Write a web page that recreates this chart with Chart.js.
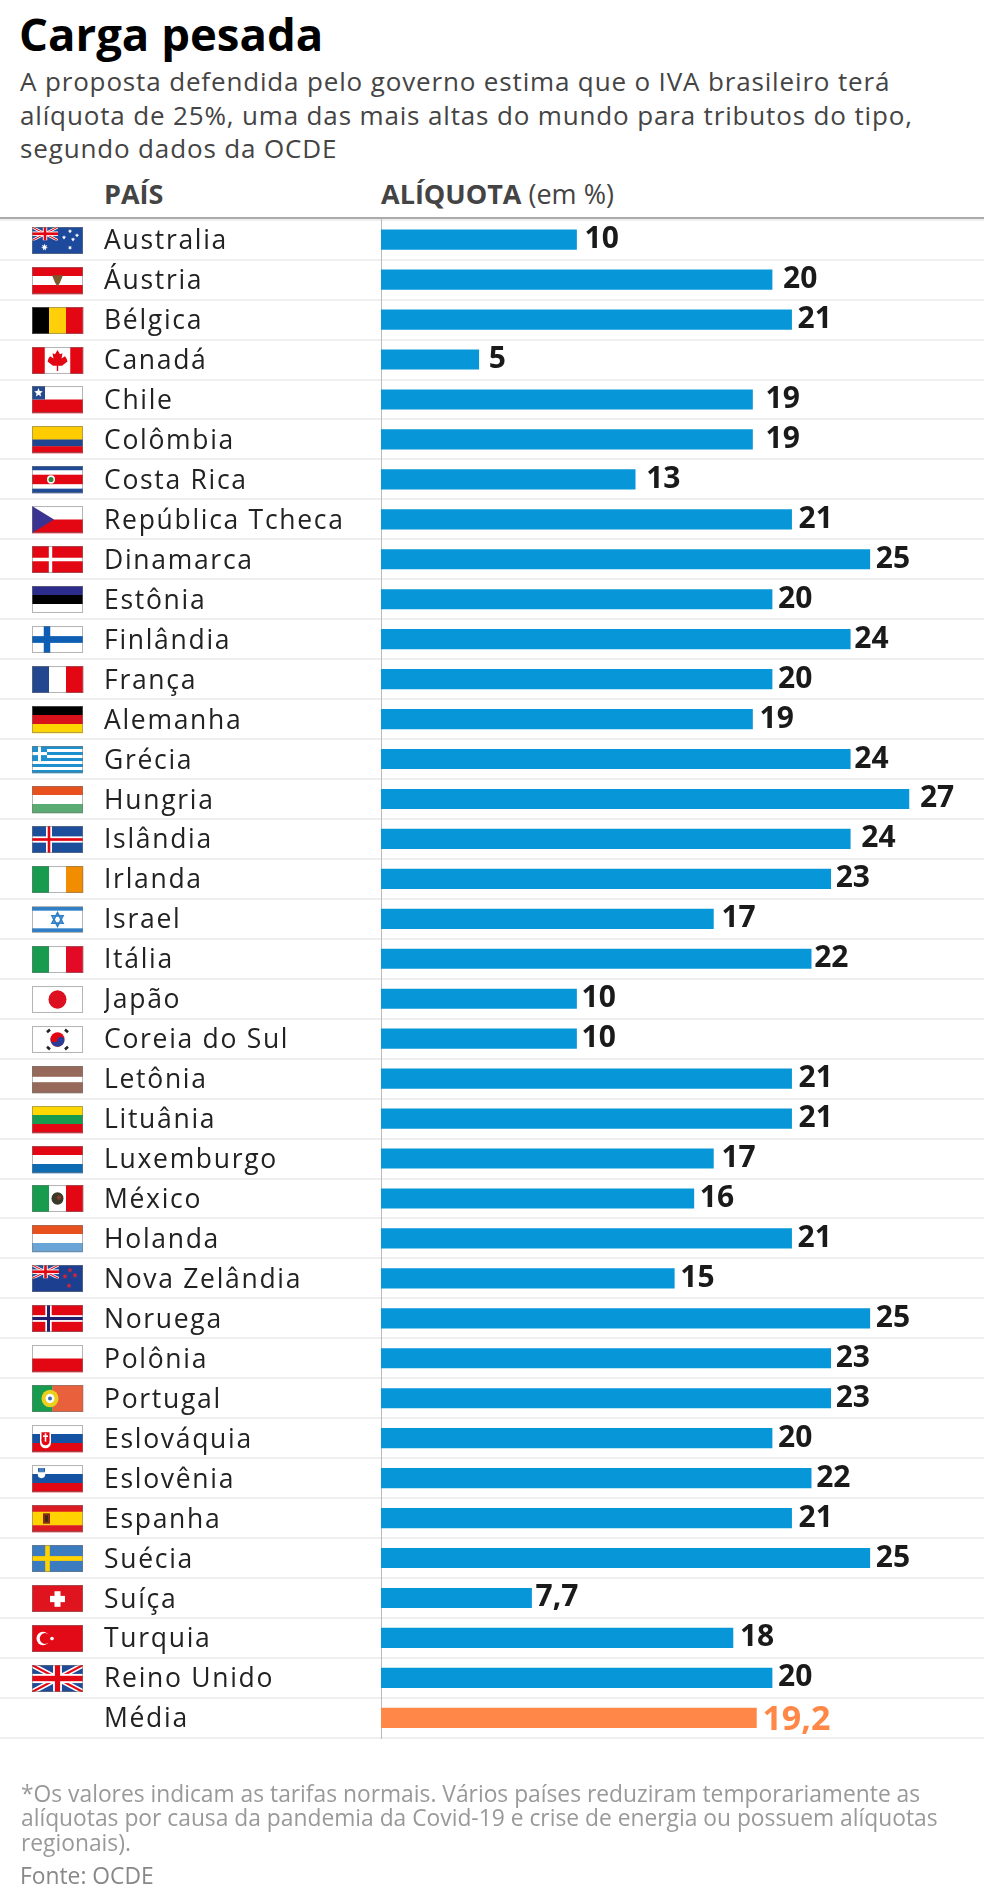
<!DOCTYPE html>
<html lang="pt-BR">
<head>
<meta charset="utf-8">
<title>Carga pesada</title>
<script src="https://cdn.jsdelivr.net/npm/chart.js@4/dist/chart.umd.min.js"></script>
<style>
  html, body { margin: 0; padding: 0; background: #fff; }
  body { position: relative; width: 984px; height: 1900px; overflow: hidden; font-family: "Open Sans", sans-serif; }
  canvas { position: absolute; left: 0; top: 0; }
  .t { position: absolute; white-space: nowrap; }
  #title { left: 19px; top: 8px; font-size: 45.5px; line-height: 50px; font-weight: 700; color: #000; }
  #sub { left: 20px; top: 65.3px; font-size: 26px; line-height: 33.3px; letter-spacing: .85px; color: #444; }
  .head { top: 178.5px; font-size: 27px; line-height: 30px; color: #444; }
  .head b { font-weight: 700; }
  #rule { position: absolute; left: 0; top: 217px; width: 984px; height: 2px; background: #aaa; }
  #note { left: 21px; top: 1781.5px; font-size: 22.8px; line-height: 24.8px; color: #999; }
  #src { left: 20px; top: 1864px; font-size: 22.8px; line-height: 24.3px; color: #888; }
</style>
</head>
<body>
<div class="t" id="title">Carga pesada</div>
<div class="t" id="sub">A proposta defendida pelo governo estima que o IVA brasileiro terá<br>alíquota de 25%, uma das mais altas do mundo para tributos do tipo,<br>segundo dados da OCDE</div>
<div class="t head" style="left:104px"><b>PAÍS</b></div>
<div class="t head" style="left:381px"><b>ALÍQUOTA</b> (em %)</div>
<div id="rule"></div>
<canvas id="myChart" width="984" height="1900"></canvas>
<div class="t" id="note">*Os valores indicam as tarifas normais. Vários países reduziram temporariamente as<br>alíquotas por causa da pandemia da Covid-19 e crise de energia ou possuem alíquotas<br>regionais).</div>
<div class="t" id="src">Fonte: OCDE</div>

<script>
// Dados
const paises = ['Australia', 'Áustria', 'Bélgica', 'Canadá', 'Chile', 'Colômbia', 'Costa Rica', 'República Tcheca',
  'Dinamarca', 'Estônia', 'Finlândia', 'França', 'Alemanha', 'Grécia', 'Hungria', 'Islândia', 'Irlanda', 'Israel',
  'Itália', 'Japão', 'Coreia do Sul', 'Letônia', 'Lituânia', 'Luxemburgo', 'México', 'Holanda', 'Nova Zelândia',
  'Noruega', 'Polônia', 'Portugal', 'Eslováquia', 'Eslovênia', 'Espanha', 'Suécia', 'Suíça', 'Turquia', 'Reino Unido', 'Média'];
const aliquotas = [10, 20, 21, 5, 19, 19, 13, 21, 25, 20, 24, 20, 19, 24, 27, 24, 23, 17, 22, 10, 10, 21, 21, 17, 16, 21, 15,
  25, 23, 23, 20, 22, 21, 25, 7.7, 18, 20, 19.2];

// distancia do rotulo ate a barra, os rotulos do original foram colocados a mao
const rotuloGap = [8, 11, 6, 10, 13, 13, 11, 7, 6, 6, 4, 6, 7, 4, 11, 11, 5, 8, 3, 5, 5, 7, 7, 8, 6, 6, 6, 6, 5, 5, 6, 5, 7, 6, 4, 7, 6, 6];

const AZUL = '#0797d8', LARANJA = '#ff8848';
const RED = '#e30613', GREEN = '#169b4f', WHITE = '#fff';

// Bandeiras (caixa de 51 x 26)
const W = 51, H = 26;
function faixas(c, cores, pesos) {
  const tot = (pesos || cores).reduce((s, p, i) => s + (pesos ? p : 1), 0);
  let y = 0;
  cores.forEach((cor, i) => { const h = H * (pesos ? pesos[i] : 1) / tot; c.fillStyle = cor; c.fillRect(0, y, W, h + .3); y += h; });
}
function colunas(c, cores, pesos) {
  const tot = (pesos || cores).reduce((s, p) => s + (pesos ? p : 1), 0);
  let x = 0;
  cores.forEach((cor, i) => { const w = W * (pesos ? pesos[i] : 1) / tot; c.fillStyle = cor; c.fillRect(x, 0, w + .3, H); x += w; });
}
function cruz(c, cor, cx, cy, t) { c.fillStyle = cor; c.fillRect(cx - t / 2, 0, t, H); c.fillRect(0, cy - t / 2, W, t); }
function disco(c, cor, x, y, r) { c.fillStyle = cor; c.beginPath(); c.arc(x, y, r, 0, Math.PI * 2); c.fill(); }
function estrela(c, cor, x, y, r, n = 5) {
  c.fillStyle = cor; c.beginPath();
  for (let i = 0; i < n * 2; i++) {
    const a = -Math.PI / 2 + i * Math.PI / n, q = i % 2 ? r * .45 : r;
    c.lineTo(x + q * Math.cos(a), y + q * Math.sin(a));
  }
  c.closePath(); c.fill();
}
function union(c, w, h) {
  c.save(); c.beginPath(); c.rect(0, 0, w, h); c.clip();
  c.fillStyle = '#1f4a96'; c.fillRect(0, 0, w, h);
  const diag = (cor, t) => { c.strokeStyle = cor; c.lineWidth = t; c.beginPath(); c.moveTo(0, 0); c.lineTo(w, h); c.moveTo(w, 0); c.lineTo(0, h); c.stroke(); };
  diag(WHITE, h * .2); diag(RED, h * .08);
  c.fillStyle = WHITE; c.fillRect(w / 2 - h * .17, 0, h * .34, h); c.fillRect(0, h / 2 - h * .17, w, h * .34);
  c.fillStyle = RED; c.fillRect(w / 2 - h * .1, 0, h * .2, h); c.fillRect(0, h / 2 - h * .1, w, h * .2);
  c.restore();
}
const bandeiras = {
  'Australia': c => { c.fillStyle = '#1d4a9c'; c.fillRect(0, 0, W, H); union(c, 26, 13);
    estrela(c, WHITE, 12.5, 19.5, 3.6, 7); [[38, 20], [38, 4], [32, 10], [45, 8], [41, 12]].forEach(p => estrela(c, WHITE, p[0], p[1], 2.2, 7)); },
  'Áustria': c => { faixas(c, [RED, WHITE, RED]); c.fillStyle = '#7a5a2c'; c.beginPath(); c.moveTo(20, 8); c.lineTo(31, 8); c.lineTo(28, 15); c.lineTo(25.5, 19); c.lineTo(23, 15); c.fill(); },
  'Bélgica': c => colunas(c, ['#000', '#ffcf0a', RED]),
  'Canadá': c => { colunas(c, [RED, WHITE, RED], [1, 2, 1]); c.fillStyle = RED; c.beginPath();
    [[25.5, 3], [28, 7], [30.5, 6], [29.5, 11], [33, 9], [34.5, 11], [35.5, 14], [30, 18], [26.2, 18], [26.2, 23], [24.8, 23], [24.8, 18], [21, 18], [15.5, 14], [16.5, 11], [18, 9], [21.5, 11], [20.5, 6], [23, 7]].forEach(p => c.lineTo(p[0], p[1]));
    c.closePath(); c.fill(); },
  'Chile': c => { faixas(c, [WHITE, RED]); c.fillStyle = '#24498f'; c.fillRect(0, 0, 13, 13); estrela(c, WHITE, 6.5, 6.5, 4.5); },
  'Colômbia': c => faixas(c, ['#ffcc00', '#1f4591', RED], [2, 1, 1]),
  'Costa Rica': c => { faixas(c, ['#1f4a96', WHITE, RED, WHITE, '#1f4a96'], [1, 1, 2.2, 1, 1]); disco(c, WHITE, 19, 13, 4); disco(c, '#2a8a3e', 19, 13, 2.5); },
  'República Tcheca': c => { faixas(c, [WHITE, RED]); c.fillStyle = '#3a3392'; c.beginPath(); c.moveTo(0, 0); c.lineTo(22, 13); c.lineTo(0, 26); c.fill(); },
  'Dinamarca': c => { c.fillStyle = RED; c.fillRect(0, 0, W, H); cruz(c, WHITE, 18.5, 13, 3.4); },
  'Estônia': c => faixas(c, ['#2c2c8a', '#000', WHITE]),
  'Finlândia': c => { c.fillStyle = WHITE; c.fillRect(0, 0, W, H); cruz(c, '#0e5fb4', 15, 13, 6.5); },
  'França': c => colunas(c, ['#24488f', WHITE, RED]),
  'Alemanha': c => faixas(c, ['#000', '#d8111b', '#ffd500']),
  'Grécia': c => { faixas(c, ['#1e90cd', WHITE, '#1e90cd', WHITE, '#1e90cd', WHITE, '#1e90cd', WHITE, '#1e90cd']); c.fillStyle = '#1e90cd'; c.fillRect(0, 0, 15, 14.5); c.fillStyle = WHITE; c.fillRect(6, 0, 3, 14.5); c.fillRect(0, 5.8, 15, 3); },
  'Hungria': c => faixas(c, ['#e8501e', WHITE, '#5aac72']),
  'Islândia': c => { c.fillStyle = '#1b4e9b'; c.fillRect(0, 0, W, H); cruz(c, WHITE, 17, 13, 6); cruz(c, RED, 17, 13, 2.6); },
  'Irlanda': c => colunas(c, [GREEN, WHITE, '#f28c00']),
  'Israel': c => { c.fillStyle = WHITE; c.fillRect(0, 0, W, H); c.fillStyle = '#2f7fc6'; c.fillRect(0, 1, W, 3.5); c.fillRect(0, 21.5, W, 3.5);
    c.strokeStyle = '#2f7fc6'; c.lineWidth = 1.6; [[-1, 1], [1, -1]].forEach(s => { c.beginPath(); c.moveTo(25.5, 13 + s[0] * 6.5); c.lineTo(31, 13 + s[1] * 3.5); c.lineTo(20, 13 + s[1] * 3.5); c.closePath(); c.stroke(); }); },
  'Itália': c => colunas(c, [GREEN, WHITE, '#e30a25']),
  'Japão': c => { c.fillStyle = WHITE; c.fillRect(0, 0, W, H); disco(c, '#dc1020', 25.5, 13, 9); },
  'Coreia do Sul': c => { c.fillStyle = WHITE; c.fillRect(0, 0, W, H); disco(c, RED, 25.5, 13, 7); c.fillStyle = '#2a3d96'; c.beginPath(); c.arc(25.5, 13, 7, .2, Math.PI + .2); c.fill(); disco(c, RED, 22.2, 12.3, 3.4); disco(c, '#2a3d96', 28.9, 13.7, 3.4);
    c.strokeStyle = '#222'; c.lineWidth = 2.6; [[15, 6, 18, 3.5], [33, 3.5, 36, 6], [15, 20, 18, 22.5], [33, 22.5, 36, 20]].forEach(p => { c.beginPath(); c.moveTo(p[0], p[1]); c.lineTo(p[2], p[3]); c.stroke(); }); },
  'Letônia': c => faixas(c, ['#96695a', WHITE, '#96695a'], [2, 1, 2]),
  'Lituânia': c => faixas(c, ['#ffd800', '#179c4f', RED]),
  'Luxemburgo': c => faixas(c, [RED, WHITE, '#0d6bb3']),
  'México': c => { colunas(c, [GREEN, WHITE, RED]); disco(c, '#3a3a2a', 25.5, 13, 6); disco(c, '#8a3a2a', 27, 12, 2.2); },
  'Holanda': c => faixas(c, ['#e8501e', WHITE, '#6aa5d8']),
  'Nova Zelândia': c => { c.fillStyle = '#1d3f8f'; c.fillRect(0, 0, W, H); union(c, 27, 13); [[38, 5], [33, 11], [43, 10], [37, 20]].forEach(p => estrela(c, '#d8243a', p[0], p[1], 2.8)); },
  'Noruega': c => { c.fillStyle = RED; c.fillRect(0, 0, W, H); cruz(c, WHITE, 16.5, 13, 6.4); cruz(c, '#21206f', 16.5, 13, 3); },
  'Polônia': c => faixas(c, [WHITE, RED]),
  'Portugal': c => { colunas(c, [GREEN, '#e9603c'], [2, 3]); disco(c, '#e8d01c', 18, 13, 8.5); disco(c, WHITE, 18, 13, 4.5); disco(c, '#3a6ab0', 18, 13, 2); },
  'Eslováquia': c => { faixas(c, [WHITE, '#1452a3', RED]); c.fillStyle = WHITE; c.fillRect(8, 6, 11, 11); disco(c, WHITE, 13.5, 17, 5.5); c.fillStyle = RED; c.fillRect(9.5, 7, 8, 8); disco(c, RED, 13.5, 15.5, 4); c.fillStyle = WHITE; c.fillRect(12.7, 8, 1.6, 8); c.fillRect(11, 10, 5, 1.5); },
  'Eslovênia': c => { faixas(c, [WHITE, '#1452a3', RED]); c.fillStyle = '#1452a3'; c.fillRect(6, 3, 7, 6); disco(c, WHITE, 9.5, 9, 3.7); c.fillStyle = '#4a7fbf'; c.fillRect(7, 3, 5, 4); },
  'Espanha': c => { faixas(c, ['#dc1a22', '#ffd200', '#dc1a22'], [1, 2, 1]); c.fillStyle = '#8a2a1a'; c.fillRect(11, 8, 7, 10); c.fillStyle = '#3a2a10'; c.fillRect(13, 10, 3, 6); },
  'Suécia': c => { c.fillStyle = '#3b7bbf'; c.fillRect(0, 0, W, H); cruz(c, '#ffd200', 15.5, 13, 4.6); },
  'Suíça': c => { c.fillStyle = '#e0141e'; c.fillRect(0, 0, W, H); c.fillStyle = WHITE; c.fillRect(22.5, 6, 6, 15); c.fillRect(18, 10.5, 15, 6); },
  'Turquia': c => { c.fillStyle = '#e30a17'; c.fillRect(0, 0, W, H); disco(c, WHITE, 11, 13, 6.5); disco(c, '#e30a17', 13, 13, 5.2); disco(c, WHITE, 20, 13, 1.8); },
  'Reino Unido': c => union(c, W, H)
};

// espacamento dos nomes, volta ao normal antes das barras
const espacamento = {
  id: 'espacamento',
  beforeDraw(chart) { chart.ctx.letterSpacing = '1.7px'; },
  beforeDatasetsDraw(chart) { chart.ctx.letterSpacing = '0px'; }
};

const rotulos = {
  id: 'rotulos',
  afterDatasetsDraw(chart) {
    const ctx = chart.ctx;
    ctx.save();
    ctx.textBaseline = 'alphabetic';
    ctx.textAlign = 'left';
    chart.getDatasetMeta(0).data.forEach((bar, i) => {
      const media = paises[i] === 'Média';
      ctx.font = '700 ' + (media ? 34 : 30) + 'px "Open Sans"';
      ctx.fillStyle = media ? LARANJA : '#1a1a1a';
      ctx.fillText(String(aliquotas[i]).replace('.', ','), bar.x + rotuloGap[i], bar.y + (media ? 12 : 8.5));
    });
    ctx.restore();
  }
};

const flags = {
  id: 'flags',
  afterDraw(chart) {
    const ctx = chart.ctx, y = chart.scales.y;
    paises.forEach((p, i) => {
      const pinta = bandeiras[p];
      if (!pinta) return;
      ctx.save();
      ctx.translate(32, Math.round(y.getPixelForValue(i)) - 13);
      ctx.scale(1, 27 / 26);
      pinta(ctx);
      ctx.strokeStyle = 'rgba(120,120,120,.55)';
      ctx.lineWidth = 1;
      ctx.strokeRect(.5, .5, W - 1, H - 1);
      ctx.restore();
    });
  }
};

const myChart = new Chart(document.getElementById('myChart'), {
  type: 'bar',
  data: {
    labels: paises,
    datasets: [{
      label: 'Alíquota (em %)',
      data: aliquotas,
      backgroundColor: ctx => paises[ctx.dataIndex] === 'Média' ? LARANJA : AZUL,
      barThickness: 19.5
    }]
  },
  options: {
    indexAxis: 'y',
    responsive: false,
    animation: false,
    devicePixelRatio: 1,
    layout: { padding: { left: 104, top: 219.7, right: 0, bottom: 162.2 } },
    plugins: { legend: { display: false }, title: { display: false }, tooltip: { enabled: false } },
    scales: {
      x: { display: false, min: 0, max: 30.84 },
      y: {
        afterFit: s => { s.width = 277; },
        grid: { offset: true, color: '#efefef', lineWidth: 2, tickLength: 381 },
        border: { color: '#bbb', width: 1 },
        ticks: { autoSkip: false, crossAlign: 'far', labelOffset: 2, color: '#222', font: { family: '"Open Sans"', size: 26.5 } }
      }
    }
  },
  plugins: [espacamento, rotulos, flags]
});
</script>
</body>
</html>
